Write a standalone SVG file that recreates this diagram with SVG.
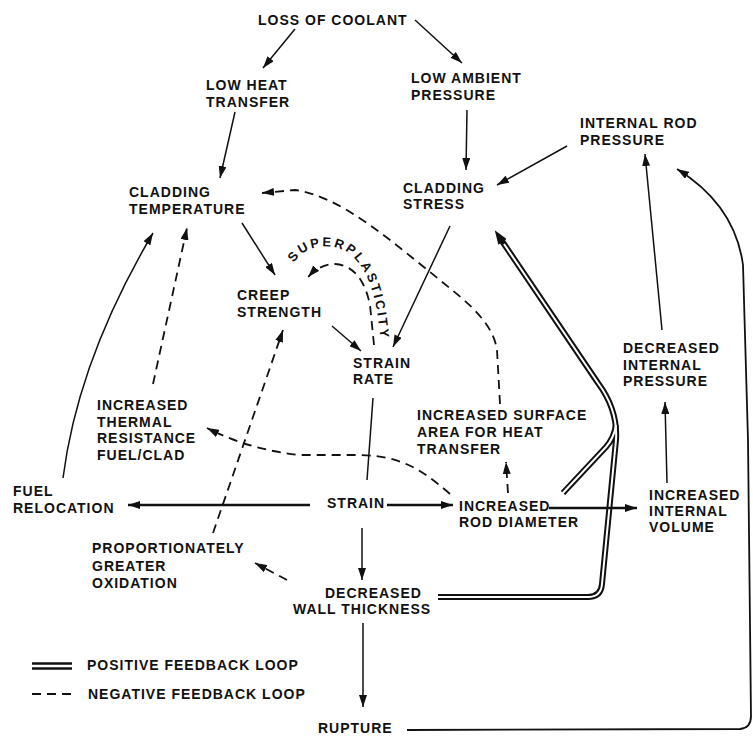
<svg xmlns="http://www.w3.org/2000/svg" width="753" height="736" viewBox="0 0 753 736">
  <style>
    .t { font-family: "Liberation Sans", Arial, sans-serif; font-weight: bold; font-size: 14px; letter-spacing: 1px; fill: #111; }
    .ln { stroke: #111; stroke-width: 1.5; fill: none; }
    .hv { stroke-width: 2.6; }
    .ds { stroke-dasharray: 9 6; stroke-width: 1.8; }
    .dblo { stroke: #111; stroke-width: 6; fill: none; stroke-linejoin: round; }
    .dbli { stroke: #fff; stroke-width: 2; fill: none; stroke-linejoin: round; }
  </style>
  <defs>
    <marker id="ah" viewBox="0 0 12 8" markerWidth="12" markerHeight="8" refX="12" refY="4" orient="auto" markerUnits="userSpaceOnUse">
      <path d="M0,0 L12,4 L0,8 z" fill="#111"/>
    </marker>
    <marker id="ahd" viewBox="0 0 14 10" markerWidth="14" markerHeight="10" refX="1" refY="5" orient="auto" markerUnits="userSpaceOnUse">
      <path d="M0,0 L14,5 L0,10 z" fill="#111"/>
    </marker>
    <path id="sp" d="M 294,263 C 305,243 340,240 356,260 C 368,274 378,295 381,350"/>
  </defs>
  <rect width="753" height="736" fill="#fff"/>

  <!-- positive feedback loop (double line) -->
  <g id="positive-loop">
    <path class="dblo" d="M 438,597 L 588,597 Q 601,597 602,584 L 616,440 Q 618,410 598,383 L 502,241" marker-end="url(#ahd)"/>
    <path class="dblo" d="M 563,493 L 606,447 Q 614,438 616,425"/>
    <path class="dbli" d="M 436,597 L 588,597 Q 601,597 602,584 L 616,440 Q 618,410 598,383 L 504,244"/>
    <path class="dbli" d="M 561,495 L 606,447 Q 614,438 616,425"/>
  </g>

  <!-- causal connectors -->
  <g id="connectors">
    <path class="ln" d="M 295,29 L 263,68" marker-end="url(#ah)"/>
    <path class="ln" d="M 415,20 L 462,63" marker-end="url(#ah)"/>
    <path class="ln" d="M 235,112 L 220,178" marker-end="url(#ah)"/>
    <path class="ln" d="M 467,110 L 466,170" marker-end="url(#ah)"/>
    <path class="ln" d="M 567,146 L 497,185" marker-end="url(#ah)"/>
    <path class="ln" d="M 242,223 L 275,275" marker-end="url(#ah)"/>
    <path class="ln" d="M 332,326 L 361,351" marker-end="url(#ah)"/>
    <path class="ln" d="M 450,226 L 393,347" marker-end="url(#ah)"/>
    <path class="ln" d="M 373,398 L 367,480"/>
    <path class="ln hv" d="M 310,505 L 128,505" marker-end="url(#ah)"/>
    <path class="ln hv" d="M 387,505 L 453,505" marker-end="url(#ah)"/>
    <path class="ln hv" d="M 549,508 L 637,508" marker-end="url(#ah)"/>
    <path class="ln" d="M 667,483 L 665,402" marker-end="url(#ah)"/>
    <path class="ln" d="M 662,330 L 645,154" marker-end="url(#ah)"/>
    <path class="ln" d="M 63,478 Q 78,360 153,233" marker-end="url(#ah)"/>
    <path class="ln" style="stroke-width:1.8" d="M 407,730 L 740,729 Q 751,728 751,716 L 748,440 L 743,265 Q 735,205 677,169" marker-end="url(#ah)"/>
    <path class="ln" d="M 362,528 L 362,580" marker-end="url(#ah)"/>
    <path class="ln" d="M 363,623 L 363,707" marker-end="url(#ah)"/>

    <!-- negative feedback (dashed) -->
    <path class="ln ds" d="M 153,384 L 187,228" marker-end="url(#ah)"/>
    <path class="ln ds" d="M 450,494 C 420,468 400,456 360,455 L 300,455 Q 250,450 207,428" marker-end="url(#ah)"/>
    <path class="ln ds" d="M 213,533 L 283,330" marker-end="url(#ah)"/>
    <path class="ln ds" d="M 287,580 L 255,563" marker-end="url(#ah)"/>
    <path class="ln ds" d="M 508,493 L 506,462" marker-end="url(#ah)"/>
    <path class="ln ds" d="M 500,404 L 497,350 C 492,318 460,297 430,272 C 390,240 340,196 295,190 L 262,193" marker-end="url(#ah)"/>
    <path class="ln ds" d="M 374,345 L 370,305 Q 362,266 335,264 Q 320,264 308,277" marker-end="url(#ah)"/>
  </g>

  <text class="t" style="font-size:13px;letter-spacing:2.4px"><textPath href="#sp">SUPERPLASTICITY</textPath></text>

  <!-- nodes -->
  <g id="loss-of-coolant"><text class="t" x="258" y="25">LOSS OF COOLANT</text></g>
  <g id="low-heat-transfer"><text class="t" x="206" y="90">LOW HEAT</text><text class="t" x="206" y="107">TRANSFER</text></g>
  <g id="low-ambient-pressure"><text class="t" x="411" y="83">LOW AMBIENT</text><text class="t" x="411" y="100">PRESSURE</text></g>
  <g id="internal-rod-pressure"><text class="t" x="580" y="128">INTERNAL ROD</text><text class="t" x="580" y="145">PRESSURE</text></g>
  <g id="cladding-temperature"><text class="t" x="129" y="197">CLADDING</text><text class="t" x="129" y="214">TEMPERATURE</text></g>
  <g id="cladding-stress"><text class="t" x="403" y="193">CLADDING</text><text class="t" x="403" y="209">STRESS</text></g>
  <g id="creep-strength"><text class="t" x="237" y="300">CREEP</text><text class="t" x="237" y="317">STRENGTH</text></g>
  <g id="strain-rate"><text class="t" x="353" y="368">STRAIN</text><text class="t" x="353" y="384">RATE</text></g>
  <g id="thermal-resistance"><text class="t" x="97" y="410">INCREASED</text><text class="t" x="97" y="427">THERMAL</text><text class="t" x="97" y="443">RESISTANCE</text><text class="t" x="97" y="460">FUEL/CLAD</text></g>
  <g id="decreased-internal-pressure"><text class="t" x="623" y="353">DECREASED</text><text class="t" x="623" y="370">INTERNAL</text><text class="t" x="623" y="386">PRESSURE</text></g>
  <g id="surface-area"><text class="t" x="417" y="420">INCREASED SURFACE</text><text class="t" x="417" y="437">AREA FOR HEAT</text><text class="t" x="417" y="454">TRANSFER</text></g>
  <g id="fuel-relocation"><text class="t" x="13" y="496">FUEL</text><text class="t" x="13" y="513">RELOCATION</text></g>
  <g id="strain"><text class="t" x="327" y="508">STRAIN</text></g>
  <g id="rod-diameter"><text class="t" x="459" y="511">INCREASED</text><text class="t" x="459" y="527">ROD DIAMETER</text></g>
  <g id="internal-volume"><text class="t" x="649" y="500">INCREASED</text><text class="t" x="649" y="516">INTERNAL</text><text class="t" x="649" y="532">VOLUME</text></g>
  <g id="oxidation"><text class="t" x="92" y="553">PROPORTIONATELY</text><text class="t" x="92" y="571">GREATER</text><text class="t" x="92" y="588">OXIDATION</text></g>
  <g id="wall-thickness"><text class="t" x="325" y="598">DECREASED</text><text class="t" x="293" y="614">WALL THICKNESS</text></g>
  <g id="rupture"><text class="t" x="318" y="733">RUPTURE</text></g>

  <!-- legend -->
  <g id="legend">
    <line x1="32" y1="663.5" x2="72" y2="663.5" stroke="#111" stroke-width="2.5"/>
    <line x1="32" y1="668.5" x2="72" y2="668.5" stroke="#111" stroke-width="2.5"/>
    <text class="t" x="87" y="670">POSITIVE FEEDBACK LOOP</text>
    <line x1="32" y1="694" x2="72" y2="694" stroke="#111" stroke-width="2.2" stroke-dasharray="9 6"/>
    <text class="t" x="88" y="699">NEGATIVE FEEDBACK LOOP</text>
  </g>
</svg>
